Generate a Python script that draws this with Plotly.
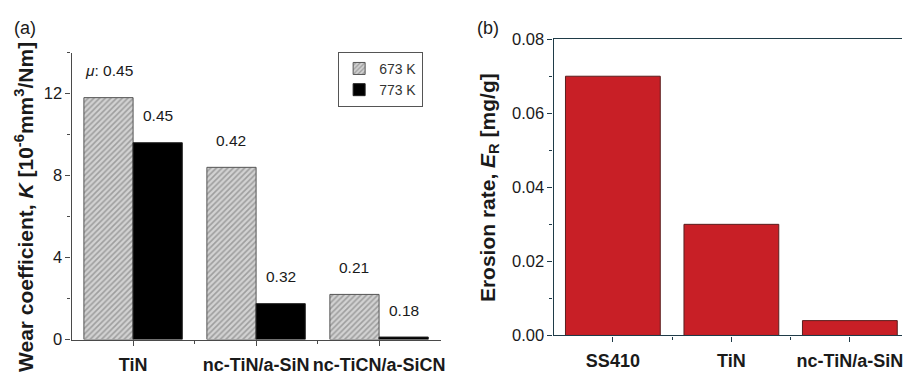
import plotly.graph_objects as go

# ---------------- data ----------------
coatings_a = ["TiN", "nc-TiN/a-SiN", "nc-TiCN/a-SiCN"]
wear_673 = [11.8, 8.4, 2.2]
wear_773 = [9.6, 1.75, 0.12]
mu_673 = ["0.45", "0.42", "0.21"]
mu_773 = ["0.45", "0.32", "0.18"]
series_names = ["673 K", "773 K"]
yticks_a = [0, 4, 8, 12]

materials_b = ["SS410", "TiN", "nc-TiN/a-SiN"]
erosion = [0.070, 0.030, 0.004]
yticks_b = [0.00, 0.02, 0.04, 0.06, 0.08]

FONT = "Liberation Sans, Arial, Helvetica, sans-serif"
AX_A = "#4a4a4a"
AX_B = "#1f3b48"
TXT = "#1a1a1a"

xa_idx = list(range(len(coatings_a)))
xb_idx = list(range(len(materials_b)))

fig = go.Figure()

fig.add_trace(go.Bar(
    x=xa_idx, y=wear_673, name=series_names[0], xaxis="x", yaxis="y",
    marker=dict(color="#cfcfcf", line=dict(color="#555555", width=1),
                pattern=dict(shape="/", fgcolor="#6a6a6a", bgcolor="#d2d2d2",
                             size=4, solidity=0.4)),
    legendgroup="a"))
fig.add_trace(go.Bar(
    x=xa_idx, y=wear_773, name=series_names[1], xaxis="x", yaxis="y",
    marker=dict(color="#000000", line=dict(color="#222222", width=1)),
    legendgroup="a"))
fig.add_trace(go.Bar(
    x=xb_idx, y=erosion, xaxis="x2", yaxis="y2", showlegend=False,
    marker=dict(color="#c81f26", line=dict(color="#5a1e1e", width=1))))

fig.update_layout(
    width=907, height=379,
    margin=dict(l=0, r=0, t=0, b=0),
    paper_bgcolor="white", plot_bgcolor="white",
    barmode="group", bargap=0.2, bargroupgap=0,
    font=dict(family=FONT, size=16, color=TXT),
    showlegend=True,
    legend=dict(x=340/907, y=1-45/379, xanchor="left", yanchor="top",
                bordercolor="#555555", borderwidth=1, bgcolor="white",
                font=dict(size=14, color="#333333"),
                itemwidth=30, tracegroupgap=0),
    xaxis=dict(domain=[72/907, 443/907], anchor="y", range=[-0.5, 2.5],
               tickvals=xa_idx, ticktext=coatings_a,
               tickfont=dict(size=18, weight="bold", color=TXT),
               ticklabelstandoff=4,
               showline=True, linecolor=AX_A, linewidth=1.3,
               ticks="outside", ticklen=5, tickcolor=AX_A,
               minor=dict(tickvals=[0.5, 1.5], ticks="outside", ticklen=3, tickcolor=AX_A),
               showgrid=False, zeroline=False, fixedrange=True),
    yaxis=dict(domain=[1-347/379, 1-45.7/379], anchor="x", range=[0, 14],
               tickvals=yticks_a, tickfont=dict(size=16.5, color=TXT),
               showline=True, linecolor=AX_A, linewidth=1.3,
               ticks="outside", ticklen=5, tickcolor=AX_A,
               minor=dict(dtick=2, ticks="outside", ticklen=3, tickcolor=AX_A),
               showgrid=False, zeroline=False),
    xaxis3=dict(overlaying="x", side="top", anchor="y", range=[-0.5, 2.5],
                tickvals=xa_idx, showticklabels=False,
                showline=True, linecolor=AX_A, linewidth=1.3,
                ticks="inside", ticklen=5, tickcolor=AX_A,
                showgrid=False, zeroline=False),
    yaxis3=dict(overlaying="y", side="right", anchor="x", range=[0, 14],
                tickvals=yticks_a, showticklabels=False,
                showline=True, linecolor=AX_A, linewidth=1.3,
                ticks="inside", ticklen=5, tickcolor=AX_A,
                minor=dict(dtick=2, ticks="inside", ticklen=3, tickcolor=AX_A),
                showgrid=False, zeroline=False),
    xaxis2=dict(domain=[556.7/907, 1.0], anchor="y2", range=[-0.5, 2.44],
                tickvals=xb_idx, ticktext=materials_b,
                tickfont=dict(size=18, weight="bold", color=TXT),
                ticklabelstandoff=4,
                showline=True, linecolor=AX_B, linewidth=1.3, mirror=True,
                ticks="outside", ticklen=5, tickcolor=AX_B,
                minor=dict(tickvals=[0.5, 1.5], ticks="outside", ticklen=3, tickcolor=AX_B),
                showgrid=False, zeroline=False),
    yaxis2=dict(domain=[1-342.7/379, 1-31.7/379], anchor="x2", range=[0, 0.08],
                tickvals=yticks_b, tickformat=".2f", tickfont=dict(size=16.5, color=TXT),
                showline=True, linecolor=AX_B, linewidth=1.3,
                ticks="outside", ticklen=5, tickcolor=AX_B,
                minor=dict(dtick=0.01, ticks="outside", ticklen=3, tickcolor=AX_B),
                showgrid=False, zeroline=False),
)

# friction-coefficient labels above bars
ann = []
for i, (m1, m2) in enumerate(zip(mu_673, mu_773)):
    t1 = ("<i>\u03bc</i>: " + m1) if i == 0 else m1
    ann.append(dict(x=i - 0.2, y=wear_673[i], xref="x", yref="y", text=t1,
                    showarrow=False, yshift=27, font=dict(size=15.5, color=TXT)))
    ann.append(dict(x=i + 0.2, y=wear_773[i], xref="x", yref="y", text=m2,
                    showarrow=False, yshift=27, font=dict(size=15.5, color=TXT)))

# axis titles and panel labels
ann.append(dict(x=24/907, y=1-208/379, xref="paper", yref="paper", textangle=-90,
                text="<b>Wear coefficient, <i>K</i> [10<sup>-6</sup>mm<sup>3</sup>/Nm]</b>",
                showarrow=False, xanchor="center", yanchor="middle",
                font=dict(size=21, color=TXT)))
ann.append(dict(x=491.7/907, y=1-187/379, xref="paper", yref="paper", textangle=-90,
                text="<b>Erosion rate, <i>E</i><sub>R</sub> [mg/g]</b>",
                showarrow=False, xanchor="center", yanchor="middle",
                font=dict(size=21, color=TXT)))
ann.append(dict(x=12/907, y=1-20/379, xref="paper", yref="paper", text="(a)",
                showarrow=False, xanchor="left", yanchor="middle",
                font=dict(size=18, color=TXT)))
ann.append(dict(x=478/907, y=1-20/379, xref="paper", yref="paper", text="(b)",
                showarrow=False, xanchor="left", yanchor="middle",
                font=dict(size=18, color=TXT)))
fig.update_layout(annotations=ann)

fig.write_html("out.html")
